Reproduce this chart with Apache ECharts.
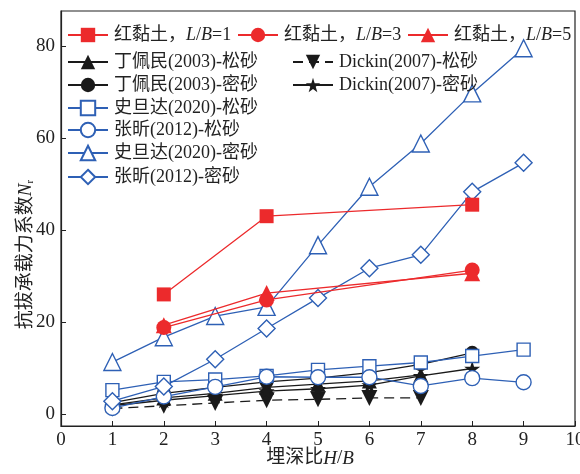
<!DOCTYPE html>
<html>
<head>
<meta charset="utf-8">
<script src="https://cdn.jsdelivr.net/npm/echarts@6/dist/echarts.min.js"></script>
<style>
  html, body { margin: 0; padding: 0; background: #fff; }
  #chart { width: 580px; height: 474px; }
</style>
</head>
<body>
<div id="chart"></div>
<script>
// H/B positions
const hbRed = [2, 4, 8];
const hb1to7 = [1, 2, 3, 4, 5, 6, 7];
const hb1to8 = [1, 2, 3, 4, 5, 6, 7, 8];
const hb1to9 = [1, 2, 3, 4, 5, 6, 7, 8, 9];

// uplift factor N_r
const redClayLB1 = [26.0, 43.0, 45.5];
const redClayLB3 = [18.8, 24.8, 31.3];
const redClayLB5 = [19.3, 26.3, 30.6];
const dingLoose = [2.0, 3.5, 4.5, 5.8, 6.5, 7.2, 8.5];
const dingDense = [2.5, 4.5, 5.8, 7.0, 7.8, 9.0, 10.8, 13.3];
const dickinLoose = [1.2, 1.8, 2.4, 3.0, 3.2, 3.5, 3.5];
const dickinDense = [1.8, 3.0, 4.0, 5.0, 5.5, 6.3, 8.3, 9.9];
const shiLoose = [5.2, 7.0, 7.5, 8.3, 9.6, 10.4, 11.2, 12.6, 14.0];
const zhangLoose = [1.3, 3.8, 5.9, 8.1, 8.0, 8.0, 6.1, 7.8, 6.9];
const shiDense = [11.3, 16.7, 21.3, 23.3, 36.7, 49.4, 58.8, 69.7, 79.5];
const zhangDense = [2.8, 6.0, 11.9, 18.6, 25.2, 31.7, 34.6, 48.3, 54.6];

// axis ticks
const xTicks = [0, 1, 2, 3, 4, 5, 6, 7, 8, 9, 10];
const yTicks = [0, 20, 40, 60, 80];

const RED = '#ec2a2c';
const BLUE = '#2e60b5';
const BLACK = '#1a1a1a';
const SERIF = '"Liberation Serif", "Noto Sans CJK SC", serif';
const STAR = 'path://M50,0 L61,35 L98,35 L68,57 L79,91 L50,70 L21,91 L32,57 L2,35 L39,35 Z';
const DOWN_TRI = 'path://M0,0 L10,0 L5,9 Z';

const zip = (xs, ys) => xs.map((x, i) => [x, ys[i]]);

function line(name, xs, ys, color, symbol, size, opts) {
  opts = opts || {};
  return {
    name: name,
    type: 'line',
    data: zip(xs, ys),
    symbol: symbol,
    symbolSize: size,
    showAllSymbol: true,
    z: opts.z || 2,
    lineStyle: { color: color, width: 1.3, type: opts.dash ? [10, 6] : 'solid' },
    itemStyle: {
      color: opts.hollow ? '#ffffff' : color,
      borderColor: color,
      borderWidth: opts.hollow ? 1.4 : 0
    },
    emphasis: { disabled: true },
    animation: false
  };
}

const series = [
  line('丁佩民(2003)-松砂', hb1to7, dingLoose, BLACK, 'triangle', 15, { z: 2 }),
  line('丁佩民(2003)-密砂', hb1to8, dingDense, BLACK, 'circle', 14, { z: 2 }),
  line('Dickin(2007)-松砂', hb1to7, dickinLoose, BLACK, DOWN_TRI, 16, { z: 2, dash: true }),
  line('Dickin(2007)-密砂', hb1to8, dickinDense, BLACK, STAR, 16, { z: 2 }),
  line('史旦达(2020)-松砂', hb1to9, shiLoose, BLUE, 'rect', 13, { z: 3, hollow: true }),
  line('张昕(2012)-松砂', hb1to9, zhangLoose, BLUE, 'circle', 15, { z: 3, hollow: true }),
  line('史旦达(2020)-密砂', hb1to9, shiDense, BLUE, 'triangle', 17, { z: 3, hollow: true }),
  line('张昕(2012)-密砂', hb1to9, zhangDense, BLUE, 'diamond', 17, { z: 3, hollow: true }),
  line('红黏土，L/B=1', hbRed, redClayLB1, RED, 'rect', 14, { z: 4 }),
  line('红黏土，L/B=3', hbRed, redClayLB3, RED, 'circle', 15, { z: 4 }),
  line('红黏土，L/B=5', hbRed, redClayLB5, RED, 'triangle', 16, { z: 4 })
];

const italicRich = {
  i: { fontFamily: SERIF, fontSize: 18, fontStyle: 'italic', color: '#222' }
};

// one legend box per entry, so each entry sits at its own spot
function legendAt(name, left, centerY) {
  return {
    data: [name],
    left: left,
    top: centerY - 10,
    orient: 'horizontal',
    itemWidth: 40,
    itemHeight: 18,
    itemGap: 0,
    padding: 0,
    selectedMode: false,
    formatter: n => n.replace('L/B', '{i|L}/{i|B}'),
    textStyle: {
      fontFamily: SERIF,
      fontSize: 18,
      color: '#222',
      lineHeight: 20,
      padding: [0, 0, 0, 1],
      rich: italicRich
    }
  };
}

const legends = [
  legendAt('红黏土，L/B=1', 67, 35),
  legendAt('红黏土，L/B=3', 237, 35),
  legendAt('红黏土，L/B=5', 407, 35),
  legendAt('丁佩民(2003)-松砂', 67, 62),
  legendAt('Dickin(2007)-松砂', 292, 62),
  legendAt('丁佩民(2003)-密砂', 67, 85),
  legendAt('Dickin(2007)-密砂', 292, 85),
  legendAt('史旦达(2020)-松砂', 67, 108),
  legendAt('张昕(2012)-松砂', 67, 130),
  legendAt('史旦达(2020)-密砂', 67, 153),
  legendAt('张昕(2012)-密砂', 67, 177)
];

const chart = echarts.init(document.getElementById('chart'), null, { renderer: 'canvas' });
chart.setOption({
  animation: false,
  backgroundColor: '#ffffff',
  grid: {
    left: 61, right: 5, top: 11, bottom: 48,
    show: true, borderColor: '#222', borderWidth: 1.2,
    containLabel: false, outerBoundsMode: 'none'
  },
  legend: legends,
  xAxis: {
    type: 'value',
    min: 0, max: 10, interval: 1,
    name: '埋深比{i|H}/{i|B}',
    nameLocation: 'middle',
    nameGap: 23,
    nameMoveOverlap: false,
    nameTextStyle: {
      fontFamily: SERIF, fontSize: 19, color: '#222',
      padding: [0, 16, 0, 0],
      rich: { i: { fontFamily: SERIF, fontSize: 19, fontStyle: 'italic', color: '#222' } }
    },
    axisLine: { onZero: false, lineStyle: { color: '#222', width: 1.2 } },
    axisTick: { inside: true, length: 5, lineStyle: { color: '#222' }, customValues: xTicks },
    axisLabel: { fontFamily: SERIF, fontSize: 19, color: '#222', margin: 5, customValues: xTicks },
    splitLine: { show: false }
  },
  yAxis: {
    type: 'value',
    min: -2.6, max: 87.6,
    name: '抗拔承载力系数{i|N}{s|r}',
    nameLocation: 'middle',
    nameGap: 25,
    nameMoveOverlap: false,
    nameTextStyle: {
      fontFamily: SERIF, fontSize: 19, color: '#222',
      padding: [0, 72, 0, 0],
      rich: {
        i: { fontFamily: SERIF, fontSize: 19, fontStyle: 'italic', color: '#222' },
        s: { fontFamily: SERIF, fontSize: 11, color: '#222', verticalAlign: 'bottom', padding: [8, 0, 0, 0] }
      }
    },
    axisLine: { show: true, lineStyle: { color: '#222', width: 1.2 } },
    axisTick: { inside: true, length: 5, lineStyle: { color: '#222' }, customValues: yTicks },
    axisLabel: { fontFamily: SERIF, fontSize: 19, color: '#222', margin: 6, customValues: yTicks },
    splitLine: { show: false }
  },
  series: series
});
</script>
</body>
</html>
